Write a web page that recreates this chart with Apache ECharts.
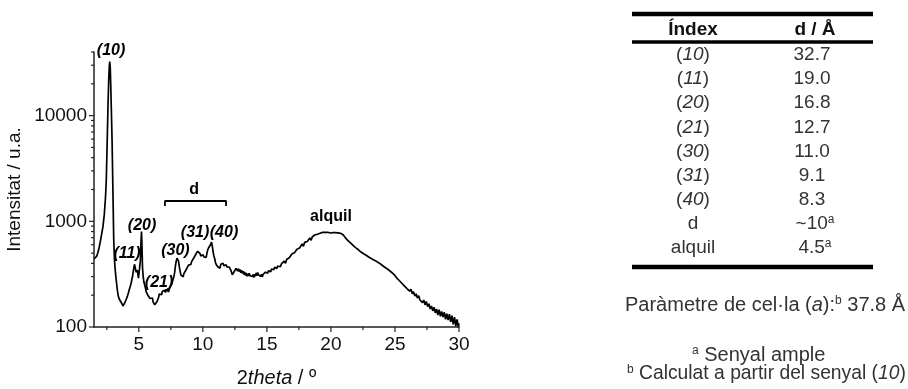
<!DOCTYPE html>
<html><head><meta charset="utf-8">
<script src="https://cdn.jsdelivr.net/npm/echarts@6/dist/echarts.min.js"></script>
<style>html,body{margin:0;padding:0;background:#fff}#c{width:908px;height:389px}</style>
</head><body><div id="c"></div>
<script>
// ---------- data ----------
const twoTheta = [
1.50,1.60,1.70,1.80,1.90,2.00,2.10,2.20,2.30,2.40,2.46,2.52,2.59,2.65,2.70,2.73,2.77,2.81,2.85,2.91,2.97,3.04,3.10,3.17,3.24,3.32,3.40,
3.46,3.51,3.56,3.61,3.66,3.71,3.76,3.81,3.86,3.91,3.96,4.01,4.06,4.11,4.16,4.21,4.26,4.31,4.36,4.41,4.46,4.51,4.56,4.61,4.66,4.70,4.74,4.79,4.83,4.88,4.92,4.97,5.02,5.07,5.12,5.17,5.21,5.25,5.29,5.34,5.40,5.46,
5.52,5.58,5.64,5.70,5.76,5.82,5.88,5.94,6.00,6.06,6.12,6.18,6.24,6.30,6.36,6.42,6.48,6.54,6.60,6.66,6.72,6.78,6.84,6.90,6.96,7.02,7.08,7.14,7.20,7.26,7.32,7.38,7.44,7.50,7.56,7.62,7.68,7.74,7.80,7.86,7.92,7.98,8.04,8.10,8.16,8.22,8.28,8.34,8.40,
8.46,8.52,8.58,8.64,8.70,8.76,8.82,8.88,8.94,9.00,9.06,9.12,9.18,9.24,9.30,9.36,9.42,9.48,9.54,9.60,9.66,9.72,9.78,9.84,9.90,9.96,10.02,10.08,10.14,10.20,10.26,10.32,10.38,10.44,10.50,10.56,10.62,10.68,10.74,10.80,10.86,10.92,10.98,11.04,11.10,11.16,11.22,11.28,11.34,11.40,11.46,11.52,11.58,11.64,11.70,11.76,11.82,11.88,11.94,12.00,12.06,12.12,12.18,12.24,12.30,12.36,12.42,12.48,12.54,12.60,
12.66,12.72,12.78,12.84,12.90,12.96,13.02,13.08,13.14,13.20,13.26,13.32,13.38,13.44,13.50,13.56,13.62,13.68,13.74,13.80,13.86,13.92,13.98,14.04,14.10,14.16,14.22,14.28,14.34,14.40,14.46,14.52,14.58,14.64,14.70,14.76,14.82,14.88,14.94,15.00,15.06,15.12,15.18,15.24,15.30,15.36,15.42,15.48,15.54,15.60,15.66,15.72,15.78,15.84,15.90,15.96,
16.05,16.15,16.25,16.35,16.45,16.55,16.65,16.75,16.85,16.95,17.05,17.15,17.25,17.35,17.45,17.55,17.65,17.75,17.85,17.95,18.05,18.15,18.25,18.35,18.45,18.55,18.65,18.75,18.85,18.95,19.05,19.15,19.25,19.35,19.45,19.55,19.65,19.75,19.85,19.95,20.05,20.15,20.25,20.35,20.45,20.55,20.65,20.75,20.85,20.95,
21.05,21.15,21.25,21.35,21.45,21.55,21.65,21.75,21.85,21.95,22.05,22.15,22.25,22.35,22.45,22.55,22.65,22.75,22.85,22.95,23.05,23.15,23.25,23.35,23.45,23.55,23.65,23.75,23.85,23.95,24.05,24.15,24.25,24.35,24.45,24.55,24.65,24.75,24.85,24.95,
25.05,25.15,25.25,25.35,25.45,25.55,25.65,25.75,25.85,25.95,26.05,26.15,26.25,26.35,26.45,26.55,26.65,26.75,26.85,26.95,27.05,27.15,27.25,27.35,27.45,27.55,27.65,27.75,27.85,27.95,
28.05,28.15,28.25,28.35,28.45,28.55,28.65,28.75,28.85,28.95,29.05,29.15,29.25,29.35,29.45,29.55,29.65,29.75,29.85,29.95,30.00
];
const intensity = [
440,447,465,505,565,650,760,890,1150,1700,2460,5000,12000,22000,30000,32400,28000,19000,12000,5900,2200,670,430,330,275,225,195,
185,192,176,182,168,174,158,163,152,170,164,182,176,196,205,200,226,234,250,262,285,300,335,360,392,405,380,330,322,345,338,290,278,300,420,640,800,560,360,300,265,250,
232,215,221,200,194,200,186,192,180,188,172,178,162,168,156,174,178,190,205,198,212,202,218,226,214,222,212,228,218,232,214,228,240,232,252,268,262,300,330,380,420,448,455,420,372,340,312,302,310,
298,320,334,328,350,362,355,385,375,398,390,415,405,432,452,470,462,495,480,520,535,505,495,470,488,475,482,460,448,470,455,500,535,560,570,590,615,635,580,515,470,445,410,390,395,372,362,385,360,392,398,388,402,380,392,375,388,370,382,372,368,372,345,330,312,300,318,340,330,358,
350,338,356,334,350,326,344,322,338,314,332,308,324,302,320,304,322,306,298,318,300,314,294,316,302,324,306,328,312,304,322,300,316,298,314,320,308,330,316,334,322,340,326,346,334,354,342,362,348,368,356,372,358,378,366,386,
372,398,392,420,400,438,440,452,458,490,485,505,505,545,540,560,568,610,580,632,620,645,650,695,662,715,700,745,730,755,745,770,762,785,765,785,758,788,762,775,760,780,765,782,752,778,748,770,742,748,
728,694,690,652,656,622,622,588,590,560,562,538,538,512,518,494,500,478,480,460,470,444,452,430,436,418,424,404,406,388,392,372,378,358,366,344,350,328,330,312,
312,290,296,274,282,258,264,244,252,230,240,218,228,206,216,196,206,188,198,180,188,170,180,162,174,156,166,148,158,142,
154,136,148,130,146,126,140,124,138,118,134,116,132,112,128,106,124,102,118,100,108
];

const X_MIN = 1.5, X_MAX = 30, Y_MIN = 100, Y_MAX = 40000;
const xMajorTicks = [5, 10, 15, 20, 25, 30];
const xMinorTicks = [2.5, 7.5, 12.5, 17.5, 22.5, 27.5];
const yMajorTicks = [100, 1000, 10000];
const yMinorTicks = [200,300,400,500,600,700,800,900,2000,3000,4000,5000,6000,7000,8000,9000,20000,30000,40000];

// peak annotations (text, 2theta, intensity)
const annotText = ['(10)', '(11)', '(20)', '(21)', '(30)', '(31)', '(40)', 'alquil', 'd'];
const annotX    = [2.83, 4.08, 5.25, 6.58, 7.86, 9.39, 11.65, 20.0, 9.31];
const annotY    = [40800, 500, 920, 266, 524, 775, 775, 1120, 1980];
const annotItalic = [true, true, true, true, true, true, true, false, false];
// bracket over the "d" region
const bracketX = [7.04, 7.04, 11.81, 11.81];
const bracketY = [1396, 1556, 1556, 1396];

// table
const tableHeader = ['Índex', 'd / Å'];
const tableIndex = ['10', '11', '20', '21', '30', '31', '40', 'd', 'alquil'];
const tableIndexIsHkl = [true, true, true, true, true, true, true, false, false];
const tableD = ['32.7', '19.0', '16.8', '12.7', '11.0', '9.1', '8.3', '~10', '4.5'];
const tableDNote = ['', '', '', '', '', '', '', 'a', 'a'];
const cellParamText = ['Paràmetre de cel·la (', 'a', '):', 'b', ' 37.8 Å'];
const footnotes = [['a', ' Senyal ample'], ['b', ' Calculat a partir del senyal (', '10', ')']];

// ---------- chart ----------
const FONT = '"Liberation Sans", Arial, sans-serif';
const INK = '#111';
const TBL = '#333';
const chart = echarts.init(document.getElementById('c'), null, {renderer: 'canvas'});

const curve = twoTheta.map((x, i) => [x, intensity[i]]);
const bracket = bracketX.map((x, i) => [x, bracketY[i]]);
const annots = annotText.map((t, i) => ({
  value: [annotX[i], annotY[i]], name: t,
  label: {fontStyle: annotItalic[i] ? 'italic' : 'normal'}
}));
const xTickData = xMajorTicks.map(v => [v, Y_MIN, 1]).concat(xMinorTicks.map(v => [v, Y_MIN, 0]));
const yTickData = yMajorTicks.map(v => [X_MIN, v, 1]).concat(yMinorTicks.map(v => [X_MIN, v, 0]));

// table graphics
const tblL = 632, tblR = 873, colA = 693, colB = 812;
const rowY0 = 55, rowH = 24.1;
const g = [];
function richFor(size) {
  return {
    i: {fontStyle: 'italic', fontSize: size, fontFamily: FONT, fill: TBL},
    sup: {fontSize: 12, fontFamily: FONT, fill: TBL, padding: [0, 0, 9, 0]},
    n: {fontSize: size, fontFamily: FONT, fill: TBL}
  };
}
function txt(x, y, text, extra, size) {
  size = size || 19;
  g.push({type: 'text', x: x, y: y, style: Object.assign({font: size + 'px ' + FONT, fill: TBL, align: 'center', verticalAlign: 'middle', rich: richFor(size)}, {text: text}, extra || {})});
}
function hline(y, w) {
  g.push({type: 'line', shape: {x1: tblL, y1: y, x2: tblR, y2: y}, style: {stroke: '#000', lineWidth: w}});
}
hline(14, 4.5);
txt(colA, 30, tableHeader[0], {font: 'bold 19px ' + FONT, fill: '#111'});
txt(colB + 3, 30, tableHeader[1], {font: 'bold 19px ' + FONT, fill: '#111'});
hline(42, 3.5);
tableIndex.forEach((t, i) => {
  const y = rowY0 + i * rowH;
  txt(colA, y, tableIndexIsHkl[i] ? '({i|' + t + '})' : t);
  txt(colB + (tableDNote[i] ? 3 : 0), y, tableDNote[i] ? tableD[i] + '{sup|' + tableDNote[i] + '}' : tableD[i]);
});
hline(267, 4.5);
txt(625, 305, cellParamText[0] + '{i|' + cellParamText[1] + '}' + cellParamText[2] + '{sup|' + cellParamText[3] + '}' + cellParamText[4], {align: 'left'}, 20);
txt(692, 355, '{sup|' + footnotes[0][0] + '}' + footnotes[0][1], {align: 'left'}, 20);
txt(627, 374, '{sup|' + footnotes[1][0] + '}' + footnotes[1][1] + '{i|' + footnotes[1][2] + '}' + footnotes[1][3], {align: 'left'}, 19.3);

function tickRender(isX) {
  return function (params, api) {
    const major = api.value(2) === 1;
    const p = api.coord([api.value(0), api.value(1)]);
    const len = major ? 5 : 3;
    const shape = isX ? {x1: p[0], y1: p[1], x2: p[0], y2: p[1] + len}
                      : {x1: p[0] - len, y1: p[1], x2: p[0], y2: p[1]};
    return {type: 'line', shape: shape, style: {stroke: '#222', lineWidth: 1.2}};
  };
}

chart.setOption({
  animation: false,
  backgroundColor: '#fff',
  grid: {left: 94, right: 449, top: 52, bottom: 62, containLabel: false, outerBoundsMode: 'none'},
  xAxis: {
    type: 'value', min: X_MIN, max: X_MAX,
    axisLine: {show: true, onZero: false, lineStyle: {color: '#222', width: 1.5}},
    axisTick: {show: false}, splitLine: {show: false},
    axisLabel: {customValues: xMajorTicks, color: INK, fontSize: 19, fontFamily: FONT, margin: 8},
    name: '{n|2}{i|theta}{n| / º}', nameLocation: 'middle', nameGap: 41,
    nameTextStyle: {rich: {n: {fontSize: 20, fontFamily: FONT, color: INK}, i: {fontSize: 20, fontFamily: FONT, fontStyle: 'italic', color: INK}}}
  },
  yAxis: {
    type: 'log', logBase: 10, min: Y_MIN, max: Y_MAX,
    axisLine: {show: true, onZero: false, lineStyle: {color: '#222', width: 1.5}},
    axisTick: {show: false}, splitLine: {show: false}, minorTick: {show: false},
    axisLabel: {color: INK, fontSize: 19, fontFamily: FONT, margin: 7,
      formatter: v => { const l = Math.log10(v); return Math.abs(l - Math.round(l)) < 1e-6 ? String(Math.round(v)) : ''; }},
    name: 'Intensitat / u.a.', nameLocation: 'middle', nameGap: 70,
    nameTextStyle: {fontSize: 19, fontFamily: FONT, color: INK}
  },
  graphic: g,
  series: [
    {type: 'line', data: curve, showSymbol: false, symbol: 'none', smooth: false,
     lineStyle: {color: '#000', width: 1.7}, z: 3},
    {type: 'line', data: bracket, showSymbol: false, symbol: 'none',
     lineStyle: {color: '#000', width: 1.8}, z: 3},
    {type: 'scatter', data: annots, symbol: 'circle', symbolSize: 2, itemStyle: {color: 'rgba(255,255,255,0)'}, clip: false, z: 6,
     labelLayout: {hideOverlap: false}, emphasis: {disabled: true},
     label: {show: true, position: 'inside', formatter: '{b}', color: '#000', opacity: 1,
       fontSize: 16, fontWeight: 'bold', fontFamily: FONT, textBorderWidth: 0}}
    ,
    {type: 'custom', data: xTickData, renderItem: tickRender(true), clip: false, silent: true, z: 5},
    {type: 'custom', data: yTickData, renderItem: tickRender(false), clip: false, silent: true, z: 5}
  ]
});
</script>
</body></html>
